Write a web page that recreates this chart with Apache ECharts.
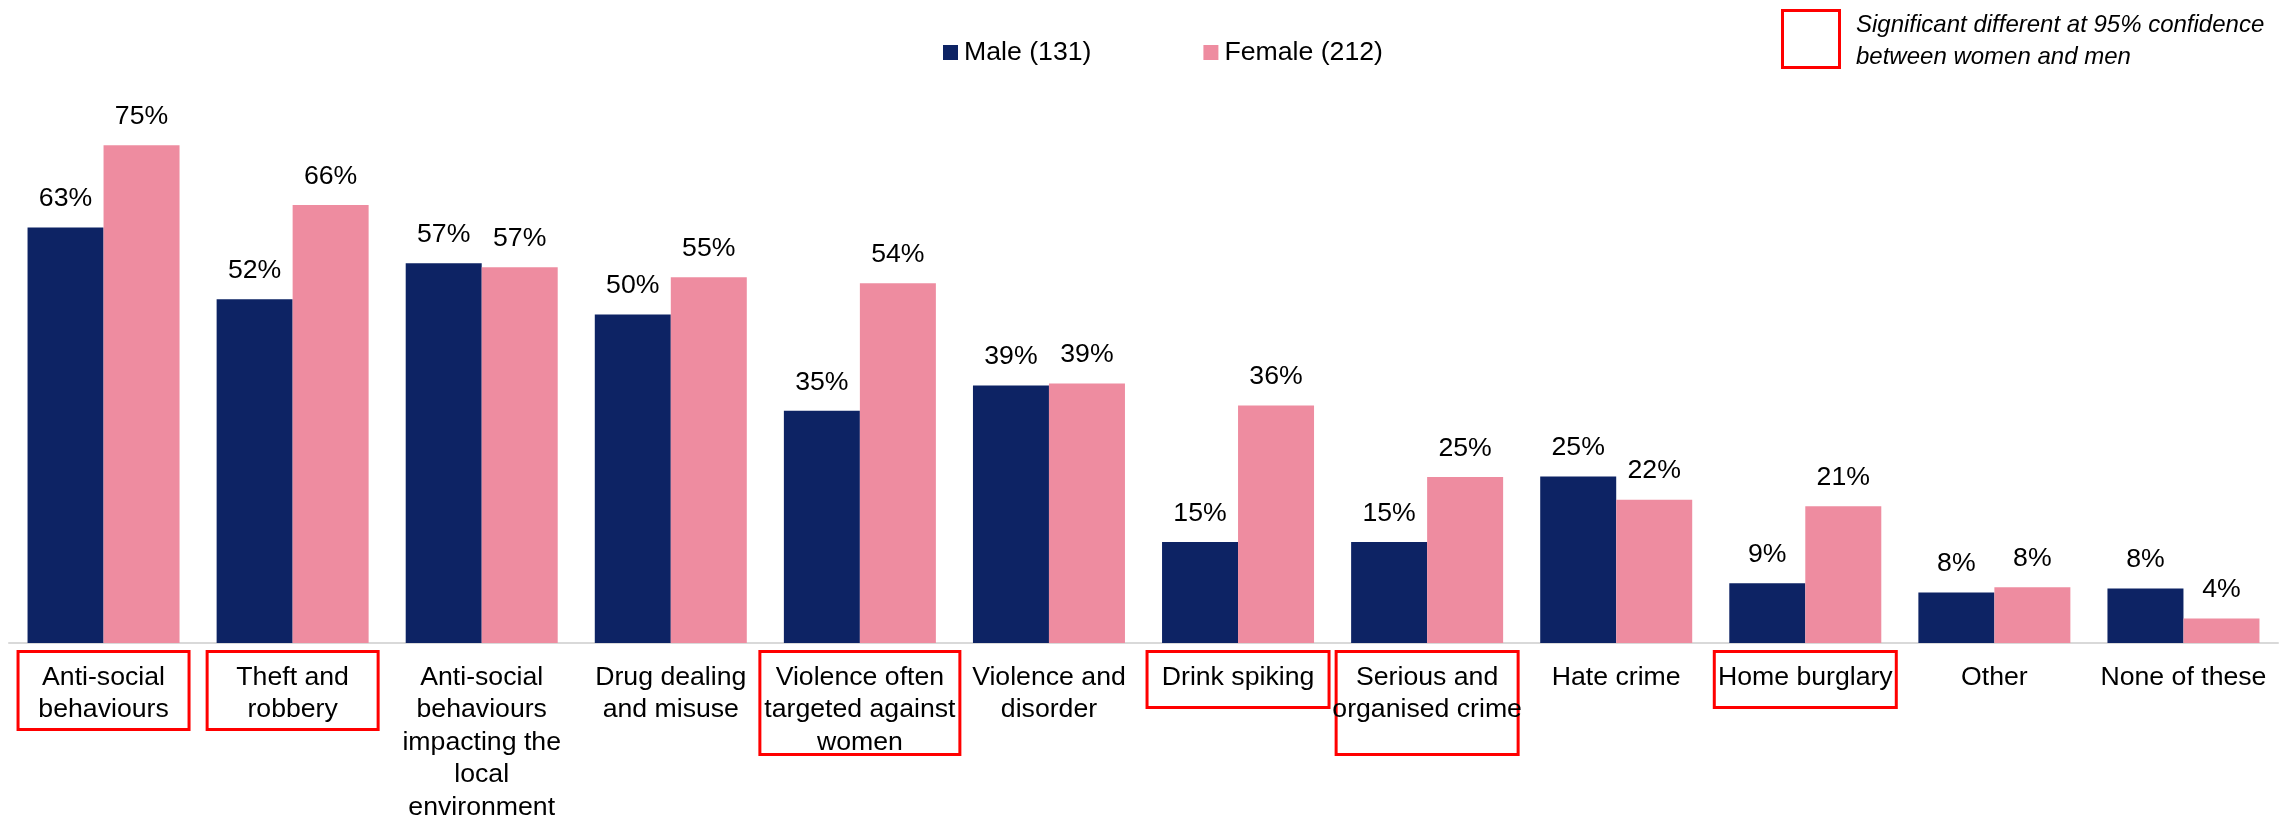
<!DOCTYPE html>
<html>
<head>
<meta charset="utf-8">
<title>Crime and anti-social behaviour concerns by gender</title>
<script src="https://cdn.jsdelivr.net/npm/echarts@6/dist/echarts.min.js"></script>
<style>
  html, body { margin: 0; padding: 0; background: #ffffff; }
  #chart { width: 2292px; height: 819px; }
</style>
</head>
<body>
<div id="chart"></div>
<script>
// Categories (line breaks as they wrap under each pair of bars)
const categories = [
  'Anti-social\nbehaviours',
  'Theft and\nrobbery',
  'Anti-social\nbehaviours\nimpacting the\nlocal\nenvironment',
  'Drug dealing\nand misuse',
  'Violence often\ntargeted against\nwomen',
  'Violence and\ndisorder',
  'Drink spiking',
  'Serious and\norganised crime',
  'Hate crime',
  'Home burglary',
  'Other',
  'None of these'
];

// Share of respondents (%) per category
const maleValues   = [62.6, 51.8, 57.2, 49.5, 35.0, 38.8, 15.2, 15.2, 25.1, 9.0, 7.6, 8.2];
const femaleValues = [75.0, 66.0, 56.6, 55.1, 54.2, 39.1, 35.8, 25.0, 21.6, 20.6, 8.4, 3.7];

// Categories where women and men differ significantly (95% confidence)
const significant = [true, true, false, false, true, false, true, true, false, true, false, false];

const seriesNames = ['Male (131)', 'Female (212)'];
const noteLines = ['Significant different at 95% confidence', 'between women and men'];

// ---- styling ----
const FONT = '"Liberation Sans", Arial, Helvetica, sans-serif';
const FS = 26.67;
const COLORS = ['#0D2364', '#EE8CA0'];
const SIG_RED = '#ff0000';
const LABEL_PAD_TOP = 9.5;
// frame size [width, height] of each highlighted category label
const frameSize = {
  0: [171, 68.5],
  1: [171, 68.5],
  4: [200, 93.5],
  6: [182, 46.5],
  7: [182, 93.5],
  9: [182, 46.5]
};

const axisData = categories.map((name, i) => {
  if (!significant[i]) return { value: name };
  const [w, h] = frameSize[i];
  return {
    value: name,
    textStyle: {
      borderColor: SIG_RED,
      borderWidth: 3,
      width: w,
      height: h,
      padding: [LABEL_PAD_TOP, 0, 0, 0],
      overflow: 'none'
    }
  };
});

const barLabel = {
  show: true,
  position: 'top',
  distance: 15,
  color: '#000',
  fontFamily: FONT,
  fontSize: FS,
  formatter: p => Math.round(p.value) + '%'
};

const chart = echarts.init(document.getElementById('chart'), null, { renderer: 'canvas' });

chart.setOption({
  animation: false,
  backgroundColor: '#ffffff',
  textStyle: { fontFamily: FONT },
  legend: {
    data: seriesNames,
    left: 938,
    top: 34,
    icon: 'rect',
    itemWidth: 15,
    itemHeight: 15,
    itemGap: 112,
    selectedMode: false,
    textStyle: { color: '#000', fontFamily: FONT, fontSize: FS, padding: [0, 0, 0, 1] }
  },
  grid: {
    left: 9,
    right: 14,
    top: 112,
    bottom: 176,
    containLabel: false,
    outerBoundsMode: 'none'
  },
  xAxis: {
    type: 'category',
    data: axisData,
    axisLine: { show: true, lineStyle: { color: '#d9d9d9', width: 2 } },
    axisTick: { show: false },
    axisLabel: {
      interval: 0,
      margin: 8.5,
      color: '#000',
      fontFamily: FONT,
      fontSize: FS,
      lineHeight: 32.5,
      align: 'center',
      padding: [LABEL_PAD_TOP, 0, 0, 0],
      overflow: 'none'
    }
  },
  yAxis: {
    type: 'value',
    min: 0,
    max: 80,
    show: false,
    splitLine: { show: false }
  },
  series: [
    {
      name: seriesNames[0],
      type: 'bar',
      data: maleValues,
      barWidth: 76,
      barGap: '0%',
      itemStyle: { color: COLORS[0] },
      label: barLabel
    },
    {
      name: seriesNames[1],
      type: 'bar',
      data: femaleValues,
      barWidth: 76,
      barGap: '0%',
      itemStyle: { color: COLORS[1] },
      label: barLabel
    }
  ],
  graphic: [
    {
      type: 'rect',
      shape: { x: 1782.5, y: 10.5, width: 57, height: 57 },
      style: { fill: 'none', stroke: SIG_RED, lineWidth: 3 }
    },
    {
      type: 'text',
      x: 1856,
      y: 9.75,
      style: {
        text: noteLines.join('\n'),
        font: 'italic 24px ' + FONT,
        fill: '#000',
        lineHeight: 31.5,
        verticalAlign: 'top',
        align: 'left'
      }
    }
  ]
});
</script>
</body>
</html>
